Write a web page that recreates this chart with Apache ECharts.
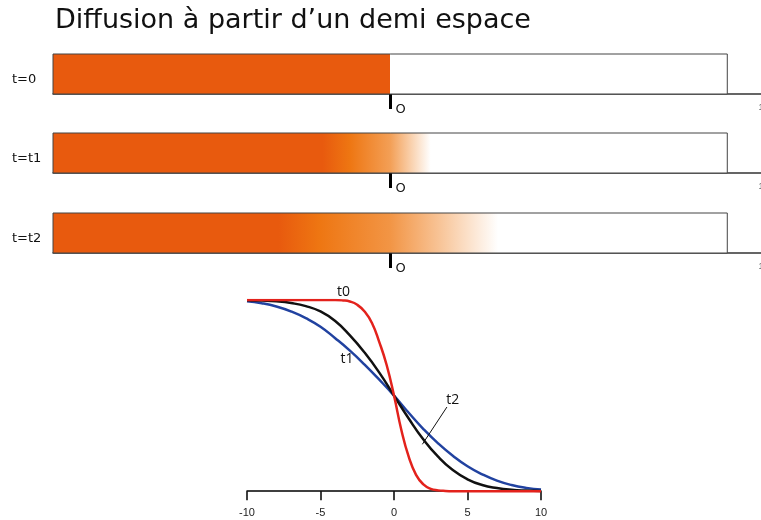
<!DOCTYPE html>
<html>
<head>
<meta charset="utf-8">
<script src="https://cdn.jsdelivr.net/npm/echarts@6/dist/echarts.min.js"></script>
<style>
  html, body { margin: 0; background: #fff; }
  #chart { width: 761px; height: 520px; }
</style>
</head>
<body>
<div id="chart"></div>
<script>
// titre + étiquettes
const titleText = 'Diffusion à partir d’un demi espace';
const barLabels = ['t=0', 't=t1', 't=t2'];

// barres : étendue du milieu (-1 .. 1) et profils de concentration le long de la barre
const barExtent = [-1, 1];
const bar0Pos = [-1, 0, 0, 1];
const bar0Conc = [1, 1, 0, 0];
const bar1Pos = [-1, -0.2, -0.12, 0, 0.06, 0.12, 1];
const bar1Conc = [1, 1, 0.72, 0.5, 0.25, 0, 0];
const bar2Pos = [-1, -0.33, -0.21, 0, 0.15, 0.32, 1];
const bar2Conc = [1, 1, 0.72, 0.55, 0.3, 0, 0];

// courbes du bas
const curveXFine = [-10, -9, -8, -7, -6, -5, -4, -3.5, -3, -2.5, -2, -1.5, -1, -0.5, 0,
  0.5, 1, 1.5, 2, 2.5, 3, 3.5, 4, 5, 6, 7, 8, 9, 10];
const redCurve = [1, 1, 1, 1, 1, 1, 1, 0.998, 0.992, 0.975, 0.94, 0.88, 0.78, 0.66, 0.5,
  0.32, 0.18, 0.085, 0.035, 0.012, 0.004, 0.001, 0, 0, 0, 0, 0, 0, 0];
const curveX = [-10, -9, -8, -7, -6, -5, -4, -3, -2, -1, 0, 1, 2, 3, 4, 5, 6, 7, 8, 9, 10];
const blackCurve = [0.999, 0.997, 0.993, 0.984, 0.968, 0.94, 0.89, 0.815, 0.725, 0.62, 0.5,
  0.38, 0.27, 0.18, 0.11, 0.062, 0.032, 0.016, 0.007, 0.003, 0.001];
const blueCurve = [0.993, 0.983, 0.966, 0.94, 0.905, 0.86, 0.8, 0.735, 0.662, 0.583, 0.5,
  0.41, 0.325, 0.25, 0.185, 0.13, 0.088, 0.055, 0.032, 0.017, 0.008];
const xTicks = [-10, -5, 0, 5, 10];

const DARK = [232, 90, 14];
const MID = [238, 120, 18];
const WHITE = [255, 255, 255];

function mix(a, b, t) {
  return 'rgb(' + a.map((v, i) => Math.round(v + (b[i] - v) * t)).join(',') + ')';
}
function concColor(c) {
  if (c >= 0.7) return mix(MID, DARK, (c - 0.7) / 0.3);
  return mix(WHITE, MID, c / 0.7);
}
function gradient(pos, conc) {
  const w = barExtent[1] - barExtent[0];
  return new echarts.graphic.LinearGradient(0, 0, 1, 0,
    pos.map((p, i) => ({ offset: (p - barExtent[0]) / w, color: concColor(conc[i]) })));
}

const barProfiles = [[bar0Pos, bar0Conc], [bar1Pos, bar1Conc], [bar2Pos, bar2Conc]];
const barTops = [54, 133, 213];

const chart = echarts.init(document.getElementById('chart'));

const grid = [], xAxis = [], yAxis = [], series = [], graphic = [];

barProfiles.forEach((prof, i) => {
  grid.push({ left: 53, right: 0, top: barTops[i], height: 40, outerBoundsMode: 'none' });
  xAxis.push({
    type: 'value', gridIndex: i, min: -1, max: 1.1,
    axisLine: { lineStyle: { color: '#333', width: 1.5 } },
    splitLine: { show: false },
    axisTick: { show: true, customValues: [0], length: 15, lineStyle: { color: '#000', width: 3 } },
    axisLabel: {
      customValues: [0, 1.1], margin: 9,
      formatter: v => (v > 0.5 ? '{one|1}' : '{o|O}'),
      rich: {
        o: { fontSize: 13, fontFamily: 'DejaVu Sans', color: '#111', padding: [0, 0, 0, 21] },
        one: { fontSize: 9, color: '#666' }
      }
    }
  });
  yAxis.push({ type: 'value', gridIndex: i, min: 0, max: 1, show: false });
  const fill = gradient(prof[0], prof[1]);
  series.push({
    type: 'custom', xAxisIndex: i, yAxisIndex: i, silent: true,
    data: [barExtent],
    renderItem: (params, api) => {
      const tl = api.coord([api.value(0), 1]);
      const br = api.coord([api.value(1), 0]);
      return {
        type: 'rect',
        shape: { x: tl[0], y: tl[1], width: br[0] - tl[0], height: br[1] - tl[1] },
        style: { fill: fill, stroke: '#444', lineWidth: 1 }
      };
    }
  });
  graphic.push({
    type: 'text', left: 12, top: barTops[i] + 19,
    style: { text: barLabels[i], fontSize: 13, fontFamily: 'DejaVu Sans', fill: '#111' }
  });
});

// graphe du bas
grid.push({ left: 247, right: 220, top: 300, bottom: 26, outerBoundsMode: 'none' });
xAxis.push({
  type: 'value', gridIndex: 3, min: -10, max: 10, interval: 5,
  axisLine: { lineStyle: { color: '#000', width: 1.5 } },
  axisTick: { length: 9, lineStyle: { color: '#000', width: 1.5 } },
  axisLabel: { margin: 13, fontSize: 11, color: '#222', fontFamily: 'Liberation Sans',
    customValues: xTicks },
  splitLine: { show: false }
});
yAxis.push({ type: 'value', gridIndex: 3, min: -0.015, max: 1, show: false });

function curve(xs, ys, color, extra) {
  return Object.assign({
    type: 'line', xAxisIndex: 3, yAxisIndex: 3, showSymbol: false, smooth: 0.5,
    data: xs.map((x, i) => [x, ys[i]]),
    lineStyle: { color: color, width: 2.5 }, silent: true
  }, extra || {});
}
const annotLabel = { show: true, fontSize: 14, fontFamily: 'Open Sans', color: '#111' };
const annotPoint = { symbol: 'circle', symbolSize: 1, itemStyle: { color: 'transparent' } };

series.push(curve(curveX, blueCurve, '#2142a0', {
  markPoint: Object.assign({
    label: Object.assign({ formatter: 't1' }, annotLabel), data: [{ coord: [-3.2, 0.69] }]
  }, annotPoint)
}));
series.push(curve(curveX, blackCurve, '#111', {
  markPoint: Object.assign({
    label: Object.assign({ formatter: 't2' }, annotLabel), data: [{ coord: [4.0, 0.475] }]
  }, annotPoint),
  markLine: { silent: true, symbol: ['none', 'none'], label: { show: false },
    lineStyle: { color: '#111', width: 1, type: 'solid' },
    data: [[{ coord: [3.6, 0.44] }, { coord: [1.93, 0.245] }]] }
}));
series.push(curve(curveXFine, redCurve, '#e3221c', {
  markPoint: Object.assign({
    label: Object.assign({ formatter: 't0', offset: [0, -8] }, annotLabel),
    data: [{ coord: [-3.43, 1] }]
  }, annotPoint)
}));

chart.setOption({
  animation: false,
  title: { text: titleText, left: 50, top: 2,
    textStyle: { fontFamily: 'DejaVu Sans', fontSize: 27, fontWeight: 'normal', color: '#111' } },
  grid: grid, xAxis: xAxis, yAxis: yAxis, series: series, graphic: graphic
});
</script>
</body>
</html>
